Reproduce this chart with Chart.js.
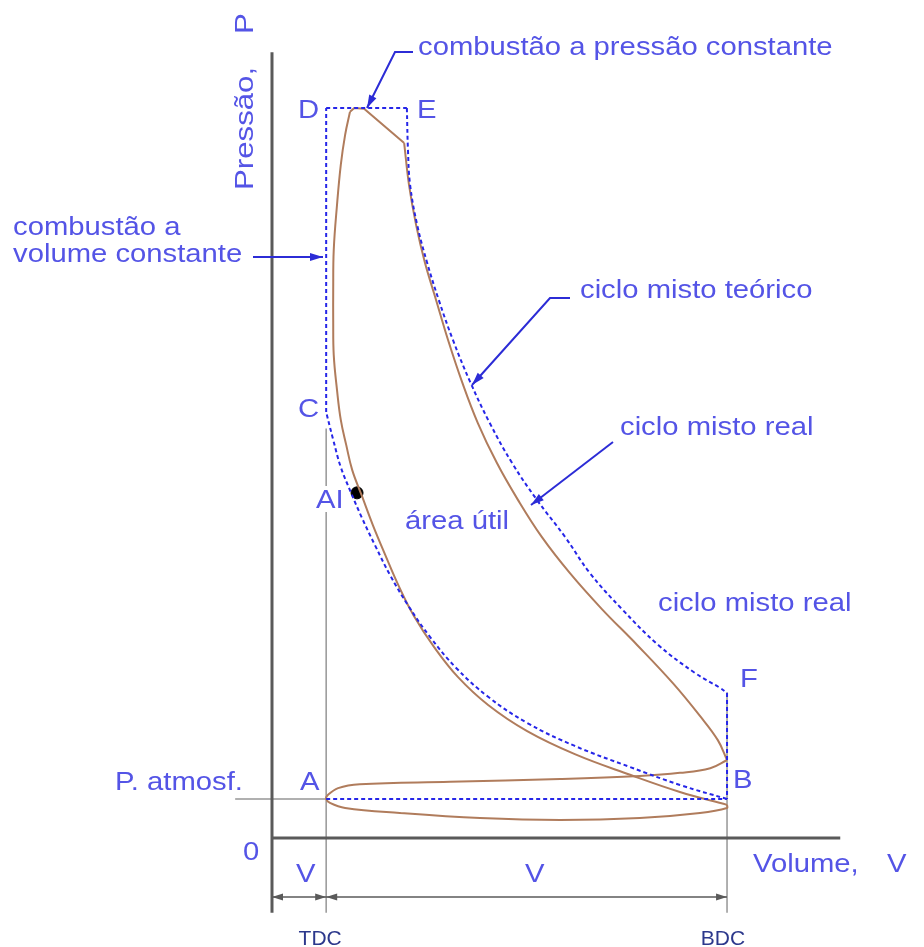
<!DOCTYPE html>
<html>
<head>
<meta charset="utf-8">
<script src="https://cdn.jsdelivr.net/npm/chart.js@4.4.0/dist/chart.umd.min.js"></script>
<style>
  html, body { margin: 0; background: #fff; }
  #wrap { width: 924px; height: 947px; }
</style>
</head>
<body>
<div id="wrap"><canvas id="pv" width="924" height="947"></canvas></div>
<script>
// ----------------------------------------------------------------------DATA
//     volume in clearance volumes (TDC = 1), pressure in atmospheres

const V_TDC = 1.0;
const V_BDC = 8.4;
const P_ATM = 1.0;

// theoretical mixed cycle (dashed)
const theoAdmission = [[1.0, 1.0], [8.4, 1.0]];
const theoCompression = [
  [8.40, 1.00], [7.53, 1.36], [6.61, 1.82], [5.59, 2.36], [4.71, 2.95],
  [3.99, 3.62], [3.40, 4.36], [2.92, 5.15], [2.51, 5.97], [2.18, 6.74],
  [1.90, 7.51], [1.66, 8.21], [1.46, 8.85], [1.27, 9.51], [1.13, 10.21],
  [1.00, 10.92]
];
const theoConstVolume = [[1.0, 10.92], [1.0, 18.72]];
const theoConstPressure = [[1.0, 18.72], [2.49, 18.72]];
const theoExpansion = [
  [2.49, 18.72], [2.51, 17.64], [2.55, 16.74], [2.68, 15.72], [2.86, 14.77],
  [3.08, 13.79], [3.34, 12.77], [3.66, 11.69], [4.02, 10.64], [4.43, 9.62],
  [4.89, 8.67], [5.41, 7.72], [5.87, 6.79], [6.46, 5.87], [7.13, 4.95],
  [7.81, 4.23], [8.27, 3.85], [8.40, 3.72]
];
const theoBlowdown = [[8.40, 3.72], [8.40, 1.0]];

// real mixed cycle (solid)
const realCompression = [
  [8.40, 0.85], [7.53, 1.18], [6.61, 1.62], [5.59, 2.15], [4.71, 2.74],
  [3.99, 3.41], [3.43, 4.13], [2.99, 4.90], [2.62, 5.69], [2.33, 6.49],
  [2.09, 7.26], [1.86, 8.03], [1.66, 8.77], [1.48, 9.44], [1.37, 10.08],
  [1.27, 10.72], [1.20, 11.49], [1.14, 12.38], [1.13, 13.28], [1.13, 14.05],
  [1.14, 15.08], [1.20, 16.23], [1.27, 17.26], [1.35, 18.03], [1.44, 18.62]
];
const realCombustion = [[1.44, 18.62], [1.52, 18.72], [1.70, 18.70], [2.44, 17.82]];
const realExpansion = [
  [2.44, 17.82], [2.53, 16.74], [2.66, 15.72], [2.82, 14.77], [3.03, 13.79],
  [3.25, 12.77], [3.51, 11.69], [3.80, 10.64], [4.15, 9.62], [4.54, 8.67],
  [4.98, 7.72], [5.50, 6.79], [6.09, 5.87], [6.74, 4.95], [7.40, 3.97],
  [7.90, 3.13], [8.23, 2.51], [8.40, 2.00]
];
const realExhaust = [
  [8.40, 2.00], [8.09, 1.79], [7.53, 1.67], [6.79, 1.59], [5.32, 1.51],
  [3.29, 1.44], [1.62, 1.38], [1.22, 1.28], [1.03, 1.10], [1.00, 1.00]
];
const realIntake = [
  [1.07, 0.90], [1.35, 0.77], [2.36, 0.64], [3.84, 0.51], [5.32, 0.46],
  [6.79, 0.51], [7.90, 0.64], [8.40, 0.77], [8.40, 0.85]
];

// ignition point
const ignition = [[1.57, 8.85]];

// -----------------------------------------------------------------------STYLE
const BLUE_DASH = "rgb(38, 38, 232)";
const BROWN = "rgb(176, 124, 92)";
const TEXT_BLUE = "rgb(84, 84, 230)";
const LEADER = "rgb(44, 44, 214)";
const AXIS = "rgb(90, 90, 90)";
const GUIDE = "rgb(150, 150, 150)";
const STRETCH = 1.17;

// -----------------------------------------------------------------------FUNCTIONS
const toXY = (arr) => arr.map(([v, p]) => ({ x: v, y: p }));

const dashed = (arr, tension) => ({
  data: toXY(arr),
  showLine: true,
  borderColor: BLUE_DASH,
  borderWidth: 2,
  borderDash: [4, 3],
  pointRadius: 0,
  tension: tension,
});

const solid = (arr, tension) => ({
  data: toXY(arr),
  showLine: true,
  borderColor: BROWN,
  borderWidth: 2,
  pointRadius: 0,
  tension: tension,
});

function text(ctx, str, x, y, size, opts = {}) {
  ctx.save();
  ctx.font = (opts.weight || "normal") + " " + size + "px 'Liberation Sans', Arial, sans-serif";
  ctx.fillStyle = opts.color || TEXT_BLUE;
  ctx.textBaseline = "alphabetic";
  ctx.textAlign = opts.align || "left";
  ctx.translate(x, y);
  if (opts.rotate) ctx.rotate(opts.rotate);
  ctx.scale(opts.stretch || STRETCH, 1);
  ctx.fillText(str, 0, 0);
  ctx.restore();
}

function arrowHead(ctx, x0, y0, x1, y1, len, half, color) {
  const a = Math.atan2(y1 - y0, x1 - x0);
  ctx.save();
  ctx.fillStyle = color;
  ctx.beginPath();
  ctx.moveTo(x1, y1);
  ctx.lineTo(x1 - len * Math.cos(a) + half * Math.sin(a), y1 - len * Math.sin(a) - half * Math.cos(a));
  ctx.lineTo(x1 - len * Math.cos(a) - half * Math.sin(a), y1 - len * Math.sin(a) + half * Math.cos(a));
  ctx.closePath();
  ctx.fill();
  ctx.restore();
}

function leader(ctx, pts) {
  ctx.save();
  ctx.strokeStyle = LEADER;
  ctx.lineWidth = 2;
  ctx.beginPath();
  pts.forEach(([x, y], i) => (i ? ctx.lineTo(x, y) : ctx.moveTo(x, y)));
  ctx.stroke();
  const n = pts.length;
  arrowHead(ctx, pts[n - 2][0], pts[n - 2][1], pts[n - 1][0], pts[n - 1][1], 13, 4, LEADER);
  ctx.restore();
}

function line(ctx, x0, y0, x1, y1, color, width) {
  ctx.save();
  ctx.strokeStyle = color;
  ctx.lineWidth = width;
  ctx.beginPath();
  ctx.moveTo(x0, y0);
  ctx.lineTo(x1, y1);
  ctx.stroke();
  ctx.restore();
}

// axes, TDC / BDC guides and the stroke dimension line
const framePlugin = {
  id: "frame",
  beforeDatasetsDraw(chart) {
    const { ctx } = chart;
    const X = (v) => chart.scales.x.getPixelForValue(v);
    const Y = (p) => chart.scales.y.getPixelForValue(p);
    const yDim = Y(-1.51);
    const yLow = Y(-1.92);

    line(ctx, X(V_TDC), Y(10.5), X(V_TDC), yLow, GUIDE, 1.5);
    line(ctx, X(V_BDC), Y(3.74), X(V_BDC), yLow, GUIDE, 1.5);
    line(ctx, X(-0.68), Y(P_ATM), X(V_TDC), Y(P_ATM), GUIDE, 1.5);

    line(ctx, X(0), Y(20.15), X(0), yLow, AXIS, 3);
    line(ctx, X(0), Y(0), X(10.49), Y(0), AXIS, 3);

    line(ctx, X(0), yDim, X(V_BDC), yDim, AXIS, 1.5);
    arrowHead(ctx, X(0.4), yDim, X(0), yDim, 11, 3.5, AXIS);
    arrowHead(ctx, X(0.6), yDim, X(V_TDC), yDim, 11, 3.5, AXIS);
    arrowHead(ctx, X(1.4), yDim, X(V_TDC), yDim, 11, 3.5, AXIS);
    arrowHead(ctx, X(8.0), yDim, X(V_BDC), yDim, 11, 3.5, AXIS);
  },
  afterDatasetsDraw(chart) {
    const { ctx } = chart;
    const X = (v) => chart.scales.x.getPixelForValue(v);

    // white gap behind the AI label on the TDC guide
    ctx.save();
    ctx.fillStyle = "#fff";
    ctx.fillRect(X(V_TDC) - 12, 486, 24, 26);
    ctx.restore();

    const notes = [
      ["combustão a pressão constante", 418, 55],
      ["D", 298, 118], ["E", 417, 118],
      ["combustão a", 13, 235], ["volume constante", 13, 262],
      ["ciclo misto teórico", 580, 298],
      ["ciclo misto real", 620, 435],
      ["C", 298, 417], ["AI", 316, 508],
      ["área útil", 405, 529],
      ["ciclo misto real", 658, 611],
      ["F", 740, 687], ["B", 733, 788],
      ["P. atmosf.", 115, 790], ["A", 300, 790],
      ["0", 243, 860],
      ["V", 296, 882], ["V", 525, 882],
      ["Volume,", 753, 872], ["V", 887, 872],
    ];
    notes.forEach(([s, x, y]) => text(ctx, s, x, y, 25));

    text(ctx, "Pressão,", 253, 190, 26, { rotate: -Math.PI / 2, stretch: 1.2 });
    text(ctx, "P", 253, 34, 26, { rotate: -Math.PI / 2, stretch: 1.2 });

    text(ctx, "TDC", X(V_TDC) - 6, 945, 21, { align: "center", color: "rgb(44, 56, 140)", stretch: 1 });
    text(ctx, "BDC", X(V_BDC) - 4, 945, 21, { align: "center", color: "rgb(44, 56, 140)", stretch: 1 });

    leader(ctx, [[413, 52], [395, 52], [367, 108]]);
    leader(ctx, [[253, 257], [323, 257]]);
    leader(ctx, [[570, 298], [550, 298], [472, 385]]);
    leader(ctx, [[613, 442], [531, 505]]);
  },
};

// -----------------------------------------------------------------------CHART
new Chart(document.querySelector("#pv"), {
  type: "scatter",
  data: {
    datasets: [
      dashed(theoAdmission, 0),
      dashed(theoCompression, 0.4),
      dashed(theoConstVolume, 0),
      dashed(theoConstPressure, 0),
      dashed(theoExpansion, 0.4),
      dashed(theoBlowdown, 0),
      solid(realCompression, 0.4),
      solid(realCombustion, 0),
      solid(realExpansion, 0.4),
      solid(realExhaust.concat(realIntake), 0.4),
      {
        data: toXY(ignition),
        pointRadius: 6,
        pointBackgroundColor: "#000",
        pointBorderColor: "#000",
      },
    ],
  },
  options: {
    responsive: false,
    animation: false,
    events: [],
    layout: { padding: 0, autoPadding: false },
    plugins: { legend: { display: false }, tooltip: { enabled: false } },
    scales: {
      x: { type: "linear", display: false, min: -5.021, max: 12.036 },
      y: { type: "linear", display: false, min: -2.795, max: 21.487 },
    },
  },
  plugins: [framePlugin],
});
</script>
</body>
</html>
